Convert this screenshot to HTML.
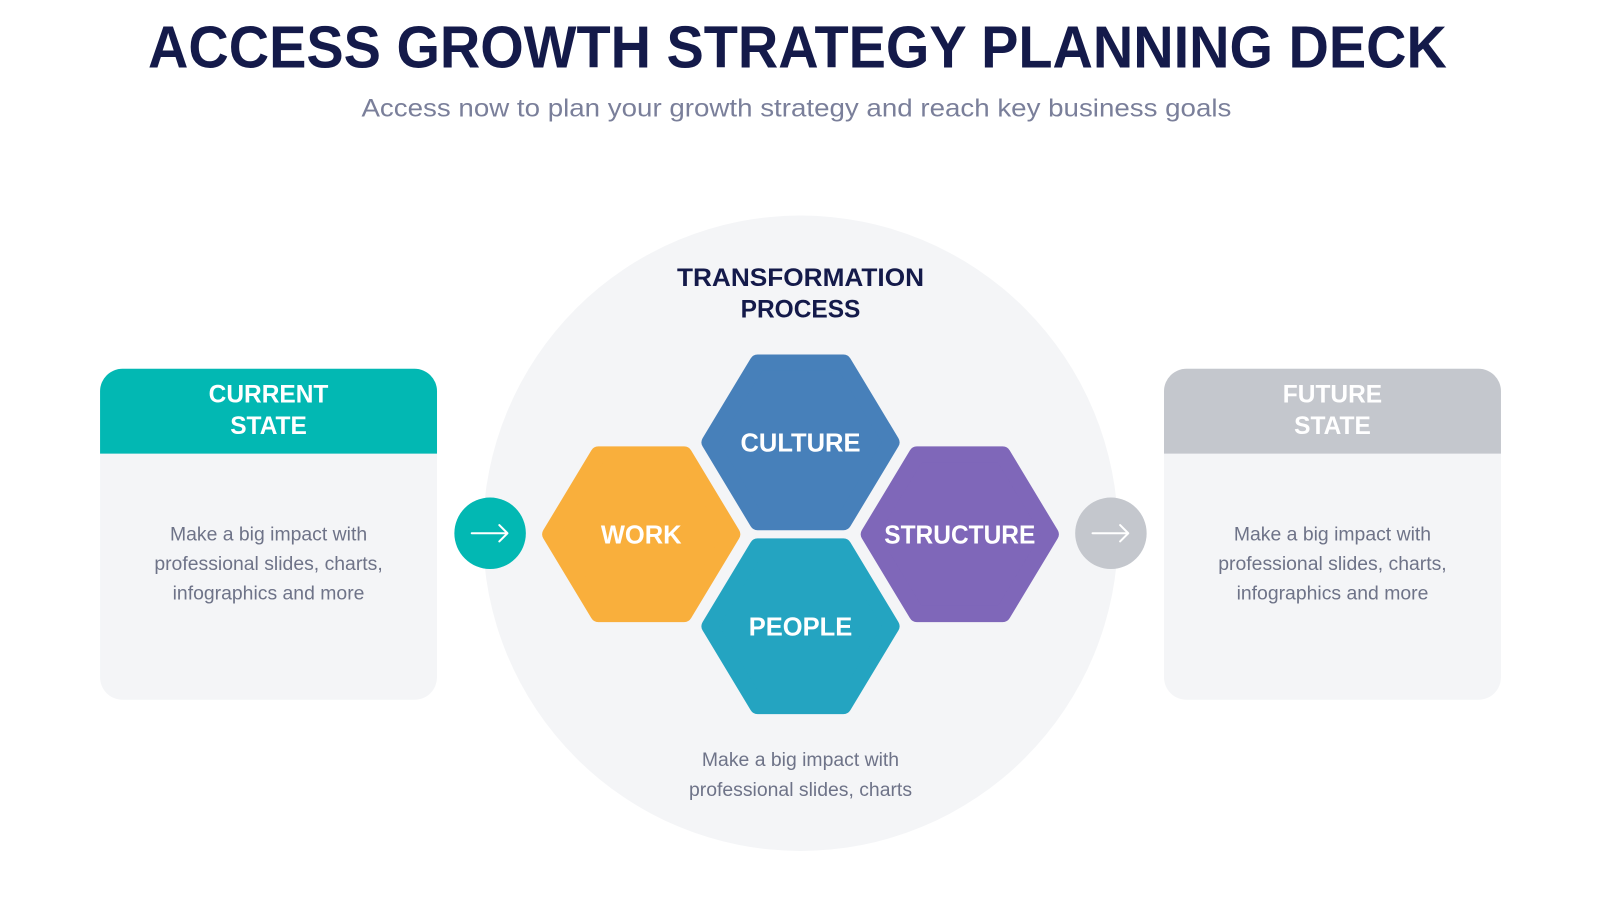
<!DOCTYPE html>
<html><head><meta charset="utf-8"><style>
html,body{margin:0;padding:0;background:#fff;}
svg{display:block;font-family:"Liberation Sans",sans-serif;}
</style></head><body>
<svg width="1600" height="900" viewBox="0 0 1567 881" preserveAspectRatio="none" xmlns="http://www.w3.org/2000/svg">
<rect width="1567" height="881" fill="#fff"/>
<text x="781" y="66" text-anchor="middle" font-size="58" font-weight="bold" fill="#141a4a" textLength="1272" lengthAdjust="spacingAndGlyphs">ACCESS GROWTH STRATEGY PLANNING DECK</text>
<text x="780" y="114" text-anchor="middle" font-size="24" fill="#7a7f9a" textLength="852" lengthAdjust="spacingAndGlyphs">Access now to plan your growth strategy and reach key business goals</text>

<circle cx="784" cy="522" r="311" fill="#f4f5f7"/>
<text x="784" y="280" text-anchor="middle" font-size="24" font-weight="bold" fill="#141a4a" textLength="242" lengthAdjust="spacingAndGlyphs">TRANSFORMATION</text>
<text x="784" y="311" text-anchor="middle" font-size="24" font-weight="bold" fill="#141a4a">PROCESS</text>

<rect x="98" y="361" width="330" height="324" rx="22" fill="#f4f5f7"/>
<path d="M98 444 V383 a22 22 0 0 1 22 -22 H406 a22 22 0 0 1 22 22 V444 Z" fill="#02b8b3"/>
<text x="263" y="394" text-anchor="middle" font-size="24" font-weight="bold" fill="#fff">CURRENT</text>
<text x="263" y="425" text-anchor="middle" font-size="24" font-weight="bold" fill="#fff">STATE</text>
<g font-size="19" fill="#6e7388" text-anchor="middle">
<text x="263" y="529">Make a big impact with</text>
<text x="263" y="558">professional slides, charts,</text>
<text x="263" y="587">infographics and more</text>
</g>

<rect x="1140" y="361" width="330" height="324" rx="22" fill="#f4f5f7"/>
<path d="M1140 444 V383 a22 22 0 0 1 22 -22 H1448 a22 22 0 0 1 22 22 V444 Z" fill="#c4c7cd"/>
<text x="1305" y="394" text-anchor="middle" font-size="24" font-weight="bold" fill="#fff">FUTURE</text>
<text x="1305" y="425" text-anchor="middle" font-size="24" font-weight="bold" fill="#fff">STATE</text>
<g font-size="19" fill="#6e7388" text-anchor="middle">
<text x="1305" y="529">Make a big impact with</text>
<text x="1305" y="558">professional slides, charts,</text>
<text x="1305" y="587">infographics and more</text>
</g>

<circle cx="480" cy="522" r="35" fill="#02b8b3"/>
<path d="M462 522 H497 M489 514 L497 522 L489 530" stroke="#fff" stroke-width="2" fill="none" stroke-linecap="round" stroke-linejoin="round"/>
<circle cx="1088" cy="522" r="35" fill="#c4c7cd"/>
<path d="M1070 522 H1105 M1097 514 L1105 522 L1097 530" stroke="#fff" stroke-width="2" fill="none" stroke-linecap="round" stroke-linejoin="round"/>

<g stroke-width="16" stroke-linejoin="round">
<polygon points="539,523 586,445 670,445 717,523 670,601 586,601" fill="#f9af3c" stroke="#f9af3c"/>
<polygon points="695,433 742,355 826,355 873,433 826,511 742,511" fill="#4780ba" stroke="#4780ba"/>
<polygon points="695,613 742,535 826,535 873,613 826,691 742,691" fill="#24a4c1" stroke="#24a4c1"/>
<polygon points="851,523 898,445 982,445 1029,523 982,601 898,601" fill="#7f67b9" stroke="#7f67b9"/>
</g>
<g font-size="25" font-weight="bold" fill="#fff" text-anchor="middle">
<text x="628" y="532">WORK</text>
<text x="784" y="442">CULTURE</text>
<text x="784" y="622">PEOPLE</text>
<text x="940" y="532" textLength="148" lengthAdjust="spacingAndGlyphs">STRUCTURE</text>
</g>

<g font-size="19" fill="#6e7388" text-anchor="middle">
<text x="784" y="750">Make a big impact with</text>
<text x="784" y="779">professional slides, charts</text>
</g>
</svg>
</body></html>
